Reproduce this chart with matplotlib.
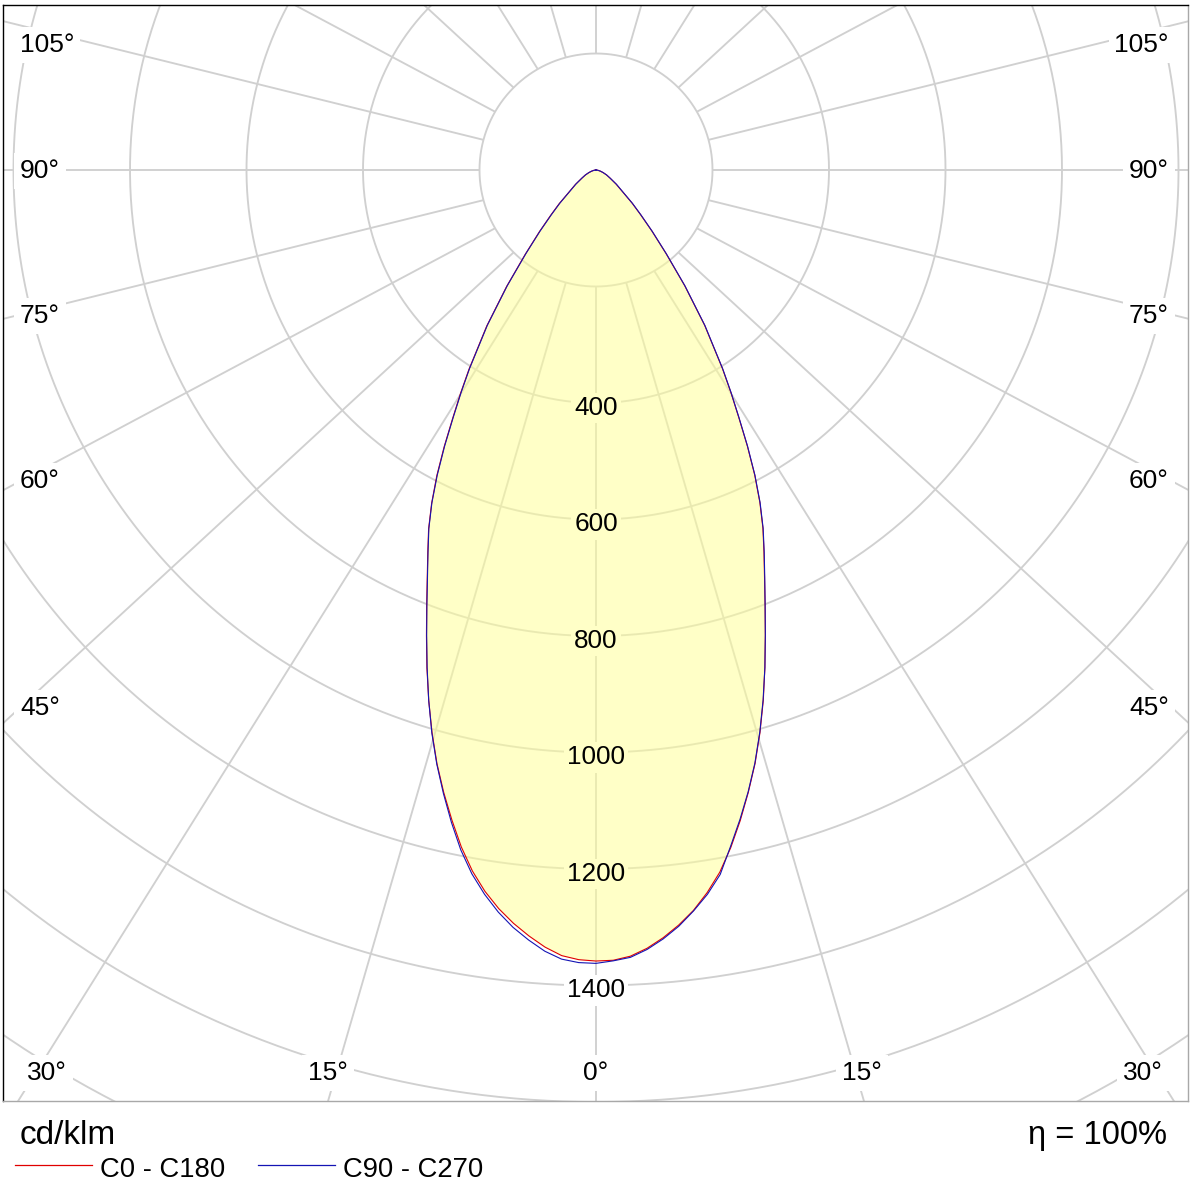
import numpy as np
import matplotlib
matplotlib.use("Agg")
import matplotlib.pyplot as plt
from matplotlib.lines import Line2D

plt.rcParams['font.family'] = ['Liberation Sans', 'DejaVu Sans']

# ---------------- data (cd/klm) ----------------
gamma = [0, 1.25, 2.5, 3.75, 5, 6.25, 7.5, 8.75, 10, 11.25, 12.5, 13.75, 15, 16.25,
         17.5, 18.75, 20, 21.25, 22.5, 23.75, 25, 26.25, 27.5, 28.75, 30, 31.25, 32.5,
         35, 37.5, 40, 42.5, 45, 47.5, 50, 55, 60, 65, 70, 75, 80, 85, 90]
c0   = [1358, 1357, 1351, 1339, 1323, 1304, 1282, 1255, 1224, 1186, 1144, 1100, 1055, 1006,
        955, 902, 850, 801, 756, 716, 678, 636, 590, 540, 490, 446, 404,
        325, 250, 187, 142, 108, 84, 63, 42, 28, 20, 13, 8, 4, 2, 0]
c180 = [1358, 1356, 1350, 1337, 1320, 1301, 1279, 1253, 1222, 1185, 1143, 1100, 1055, 1006,
        955, 903, 851, 802, 757, 717, 680, 638, 592, 542, 492, 448, 406,
        327, 252, 189, 144, 110, 86, 64, 43, 28, 20, 13, 8, 4, 2, 0]
c90  = [1359, 1358, 1353, 1341, 1325, 1306, 1283, 1258, 1228, 1184, 1142, 1099, 1054, 1005,
        954, 902, 850, 801, 757, 717, 679, 637, 591, 541, 491, 447, 405,
        326, 251, 188, 143, 109, 85, 64, 43, 28, 20, 13, 8, 4, 2, 0]
c270 = [1362, 1361, 1356, 1344, 1327, 1308, 1285, 1258, 1227, 1190, 1147, 1102, 1056, 1007,
        955, 902, 850, 801, 756, 716, 679, 637, 590, 540, 490, 446, 404,
        325, 250, 187, 142, 108, 84, 63, 42, 28, 20, 13, 8, 4, 2, 0]

ring_values = [200, 400, 600, 800, 1000, 1200, 1400, 1600, 1800]
ring_labels = [400, 600, 800, 1000, 1200, 1400]
ray_angles = list(range(0, 360, 15))
unit_text = "cd/klm"
eff_text = "η = 100%"
legend_labels = ["C0 - C180", "C90 - C270"]

# angle labels: (text, x_px, baseline_px, align)
angle_labels = [
    ("105°", 20, 52, "left"), ("90°", 20, 178, "left"), ("75°", 20, 323, "left"),
    ("60°", 20, 488, "left"), ("45°", 20, 715, "left"),
    ("105°", 1169, 52, "right"), ("90°", 1169, 178, "right"), ("75°", 1169, 323, "right"),
    ("60°", 1169, 488, "right"), ("45°", 1169, 715, "right"),
    ("30°", 47, 1080, "center"), ("15°", 328, 1080, "center"), ("0°", 596, 1080, "center"),
    ("15°", 862, 1080, "center"), ("30°", 1143, 1080, "center"),
]

RED = "#E00000"
BLUE = "#1414B4"
GRID = "#D0D0D0"
FILL = "#FFFF99"

W, H = 1192, 1184
fig = plt.figure(figsize=(W / 100, H / 100), dpi=100)
fig.patch.set_facecolor("white")

# axes box in pixels
L, T, R_, B = 3, 5, 1188, 1101
ax = fig.add_axes([L / W, 1 - B / H, (R_ - L) / W, (B - T) / H])
scale = 0.5825  # px per cd/klm
cx, cy = 596, 170
ax.set_xlim(-(cx - L) / scale, (R_ - cx) / scale)
ax.set_ylim(-(B - cy) / scale, (cy - T) / scale)
ax.set_xticks([])
ax.set_yticks([])
for s in ("left", "top"):
    ax.spines[s].set_color("#000000")
for s in ("right", "bottom"):
    ax.spines[s].set_color("#A8A8A8")
for s in ax.spines.values():
    s.set_linewidth(1.0)

# grid rings
t = np.linspace(0, 2 * np.pi, 721)
for rv in ring_values:
    ax.plot(rv * np.cos(t), rv * np.sin(t), color=GRID, lw=1.35, zorder=1, solid_capstyle="butt")

# rays (start at inner ring)
k = 1.08
r0 = ring_values[0]
for a in ray_angles:
    g = np.deg2rad(a)
    x0, y0 = r0 * np.sin(g), -r0 * np.cos(g)
    x1, y1 = 4000 * k * np.sin(g), -4000 * np.cos(g)
    ax.plot([x0, x1], [y0, y1], color=GRID, lw=1.35, zorder=1, solid_capstyle="butt")


def curve(right, left):
    g = np.deg2rad(np.array(gamma))
    ang = np.concatenate([-g[::-1], g[1:]])
    inten = np.concatenate([np.array(left)[::-1], np.array(right)[1:]])
    return inten * np.sin(ang), -inten * np.cos(ang)


xr, yr = curve(c0, c180)
xb, yb = curve(c90, c270)

# ring label backgrounds (below fill) and texts (above)
for v in ring_labels:
    ax.annotate(str(v), xy=(0, -v), xytext=(0, -8.6), textcoords="offset points",
                ha="center", va="baseline", fontsize=18.8, color="none", zorder=2,
                bbox=dict(boxstyle="square,pad=0.12", fc="white", ec="none"))

ax.fill(xr, yr, facecolor=FILL, alpha=0.55, edgecolor="none", zorder=3)
ax.plot(xr, yr, color=RED, lw=0.8, zorder=4)
ax.plot(xb, yb, color=BLUE, lw=0.8, zorder=4)

for v in ring_labels:
    ax.annotate(str(v), xy=(0, -v), xytext=(0, -8.6), textcoords="offset points",
                ha="center", va="baseline", fontsize=18.8, color="black", zorder=6)

# angle labels
for txt, xp, yp, al in angle_labels:
    fig.text(xp / W, 1 - yp / H, txt, ha=al, va="baseline", fontsize=19, color="black",
             zorder=6, bbox=dict(boxstyle="square,pad=0.22", fc="white", ec="none"))

# bottom legend area
fig.text(20 / W, 1 - 1144 / H, unit_text, ha="left", va="baseline", fontsize=24)
fig.text(1167 / W, 1 - 1144 / H, eff_text, ha="right", va="baseline", fontsize=23.5)

leg_y = 1 - 1165 / H
fig.add_artist(Line2D([15 / W, 92 / W], [leg_y, leg_y], color=RED, lw=0.9))
fig.add_artist(Line2D([258 / W, 335 / W], [leg_y, leg_y], color=BLUE, lw=0.9))
fig.text(100 / W, 1 - 1177 / H, legend_labels[0], ha="left", va="baseline", fontsize=19.7)
fig.text(343 / W, 1 - 1177 / H, legend_labels[1], ha="left", va="baseline", fontsize=19.7)

fig.savefig("out.png", dpi=100, facecolor="white")
